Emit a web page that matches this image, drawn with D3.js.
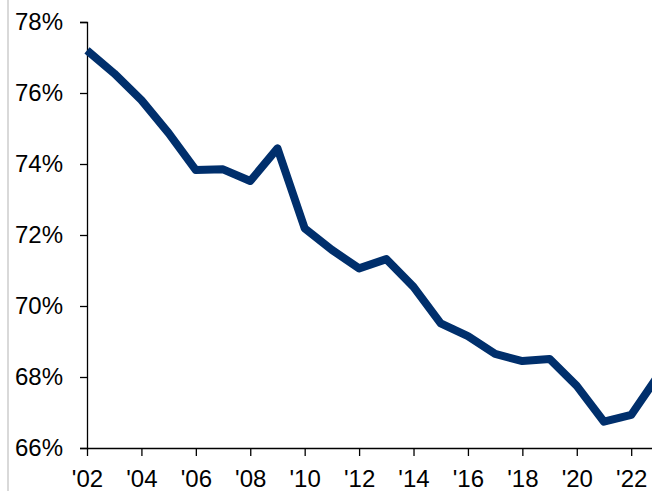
<!DOCTYPE html>
<html>
<head>
<meta charset="utf-8">
<script src="https://cdn.jsdelivr.net/npm/d3@7"></script>
<style>
  html, body { margin: 0; padding: 0; background: #fff; }
  svg { display: block; }
</style>
</head>
<body>
<svg id="chart" width="652" height="491"></svg>
<script>
const years = [2002,2003,2004,2005,2006,2007,2008,2009,2010,2011,2012,2013,2014,2015,2016,2017,2018,2019,2020,2021,2022,2023];
const values = [77.2,76.55,75.8,74.87,73.83,73.85,73.52,74.44,72.19,71.58,71.06,71.32,70.54,69.51,69.15,68.65,68.45,68.51,67.75,66.74,66.93,68.05];
const yTicks = [66,68,70,72,74,76,78];
const xTicks = [2002,2004,2006,2008,2010,2012,2014,2016,2018,2020,2022];

const svg = d3.select("#chart");
const font = "'Liberation Sans', Arial, sans-serif";

const x = d3.scaleLinear().domain([2002, 2023]).range([87, 658.4]);
const y = d3.scaleLinear().domain([66, 78]).range([448, 22]);

// light gray left border
svg.append("rect").attr("x", 7).attr("y", 0).attr("width", 2).attr("height", 491).attr("fill", "#d9d9d9");

// Y axis
const yAxis = svg.append("g").attr("transform", "translate(87,0)")
  .call(d3.axisLeft(y).tickValues(yTicks).tickSize(7).tickPadding(17).tickFormat(d => d + "%"));
yAxis.select(".domain").attr("stroke", "#000").attr("stroke-width", 1.3);
yAxis.selectAll(".tick line").attr("stroke", "#000").attr("stroke-width", 1.3);
yAxis.selectAll(".tick text").attr("font-family", font).attr("font-size", 24).attr("fill", "#000");

// X axis
const xAxis = svg.append("g").attr("transform", "translate(0,448)")
  .call(d3.axisBottom(x).tickValues(xTicks).tickSize(8).tickSizeOuter(0).tickPadding(14)
    .tickFormat(d => "'" + String(d).slice(2)));
xAxis.select(".domain").attr("stroke", "#000").attr("stroke-width", 1.3);
xAxis.selectAll(".tick line").attr("stroke", "#000").attr("stroke-width", 1.3);
xAxis.selectAll(".tick text").attr("font-family", font).attr("font-size", 24).attr("fill", "#000");

// line
const line = d3.line().x((d, i) => x(years[i])).y(d => y(d));
svg.append("path")
  .datum(values)
  .attr("d", line)
  .attr("fill", "none")
  .attr("stroke", "#002f6c")
  .attr("stroke-width", 8)
  .attr("stroke-linejoin", "round")
  .attr("stroke-linecap", "butt");
</script>
</body>
</html>
